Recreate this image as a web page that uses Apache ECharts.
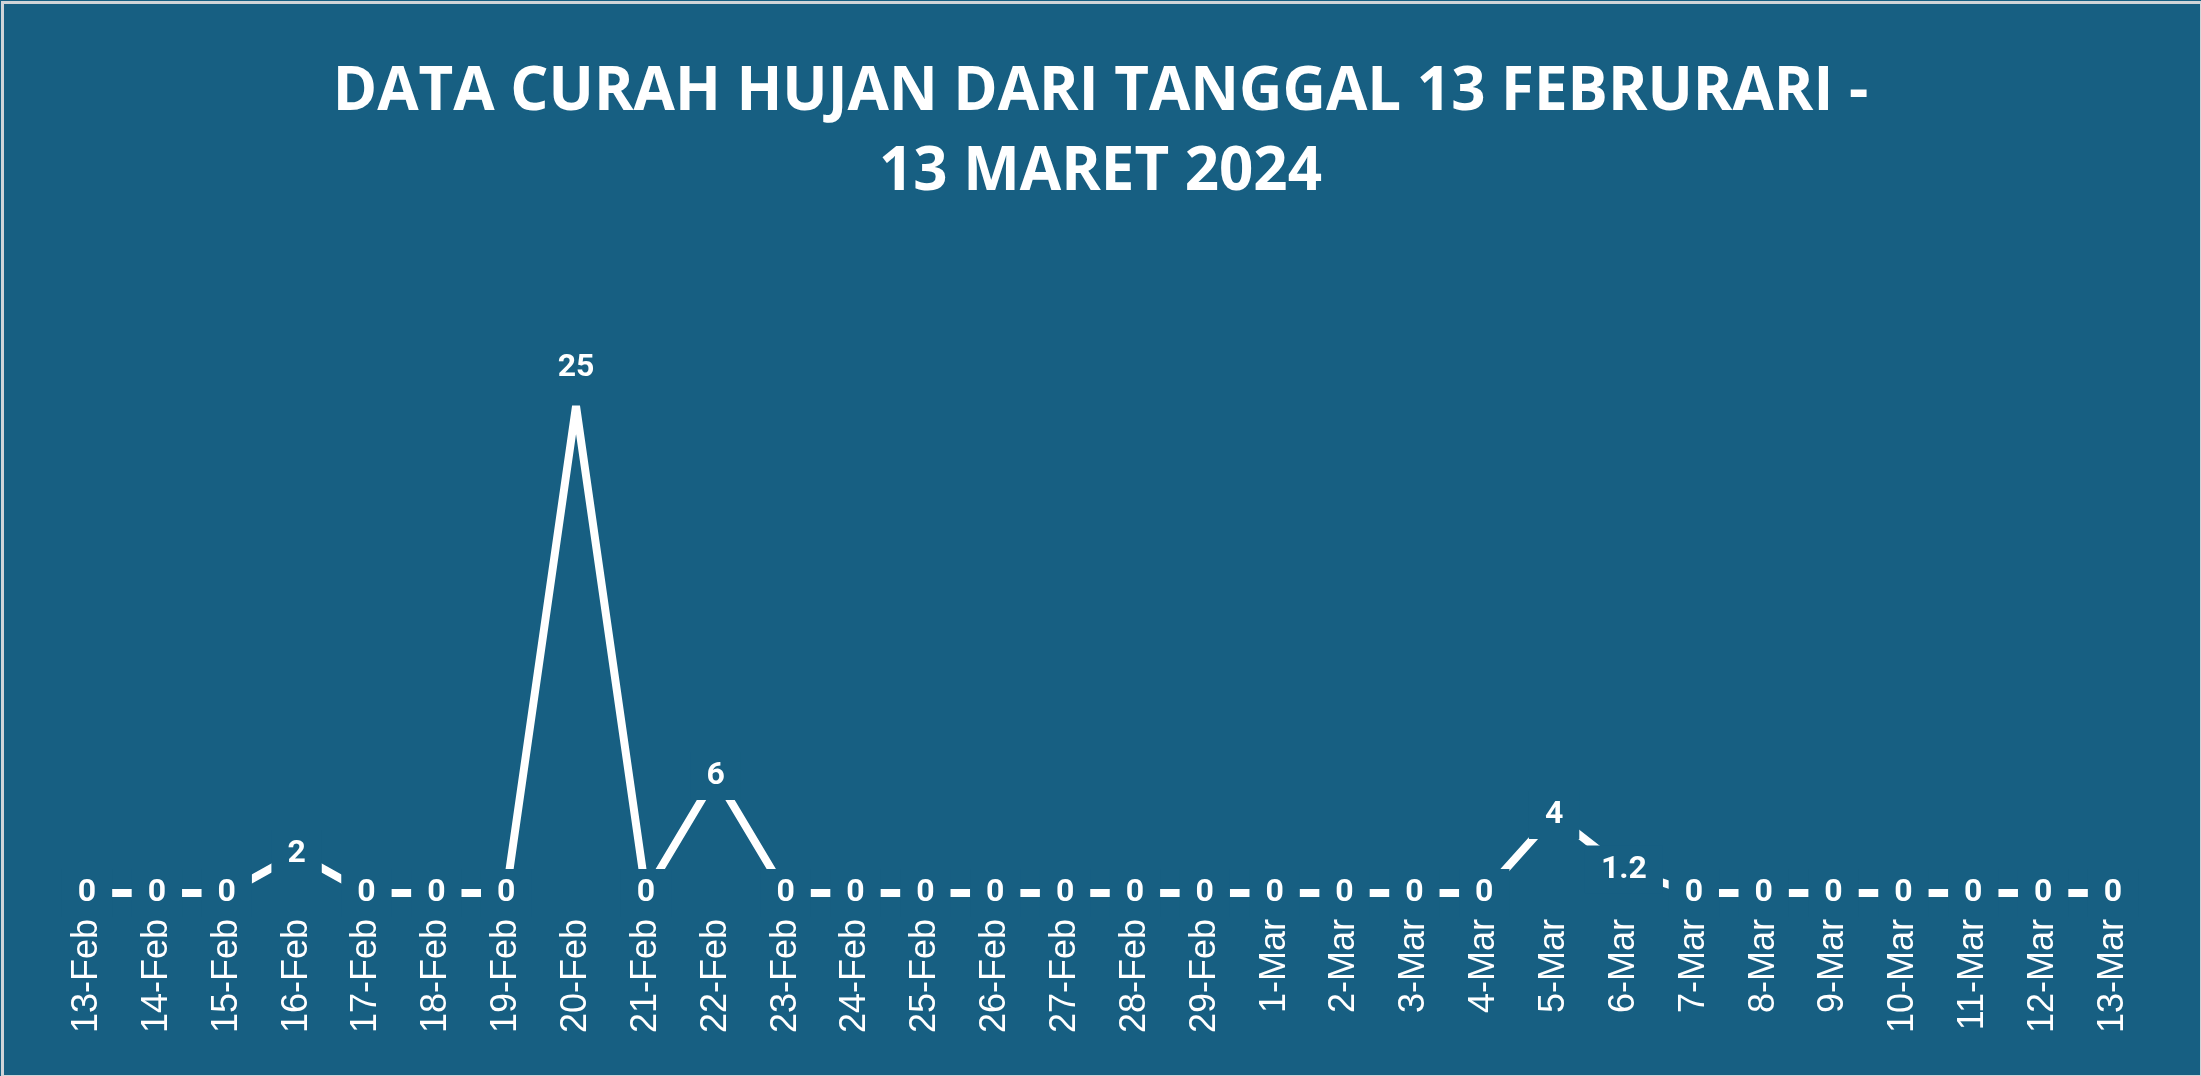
<!DOCTYPE html>
<html><head><meta charset="utf-8">
<script src="https://cdn.jsdelivr.net/npm/echarts@6/dist/echarts.min.js"></script>
<style>html,body{margin:0;padding:0;background:#fff}#c{width:2201px;height:1076px}</style>
</head><body><div id="c"></div>
<script>
var dates = ['13-Feb','14-Feb','15-Feb','16-Feb','17-Feb','18-Feb','19-Feb','20-Feb','21-Feb','22-Feb','23-Feb','24-Feb','25-Feb','26-Feb','27-Feb','28-Feb','29-Feb','1-Mar','2-Mar','3-Mar','4-Mar','5-Mar','6-Mar','7-Mar','8-Mar','9-Mar','10-Mar','11-Mar','12-Mar','13-Mar'];
var rainfall = [0,0,0,2,0,0,0,25,0,6,0,0,0,0,0,0,0,0,0,0,0,4,1.2,0,0,0,0,0,0,0];
var bg = '#175F82';

var chart = echarts.init(document.getElementById('c'));
var data = rainfall.map(function (v) {
    var d = { value: v };
    if (v === 25) {
        d.label = { position: 'top', distance: 14, backgroundColor: 'transparent' };
    }
    return d;
});
chart.setOption({
    backgroundColor: bg,
    graphic: [{
        type: 'rect', left: 0, top: 0,
        shape: { width: 2199, height: 1074 },
        style: { fill: 'none', stroke: '#d0d4d8', lineWidth: 3 }
    }],
    title: {
        text: 'DATA CURAH HUJAN DARI TANGGAL 13 FEBRURARI -\n13 MARET 2024',
        left: 'center',
        top: 48,
        textStyle: {
            color: '#fff', fontSize: 60, fontWeight: 'bold', lineHeight: 80,
            fontFamily: 'Open Sans'
        }
    },
    grid: { left: 87, right: 88, top: 406, bottom: 183 },
    xAxis: {
        type: 'category',
        data: dates,
        boundaryGap: false,
        axisLine: { show: false },
        axisTick: { show: false },
        axisLabel: {
            rotate: 90, color: '#fff', fontSize: 36, margin: 26,
            fontFamily: 'Liberation Sans', interval: 0
        }
    },
    yAxis: {
        type: 'value', min: 0, max: 25, show: false,
        splitLine: { show: false }
    },
    series: [{
        type: 'line',
        data: data,
        symbol: 'circle',
        symbolSize: 1,
        showAllSymbol: true,
        itemStyle: { color: 'transparent' },
        lineStyle: { color: '#fff', width: 8 },
        label: {
            show: true,
            position: 'inside',
            color: '#fff',
            fontSize: 32,
            fontWeight: 'bold',
            fontFamily: 'Roboto',
            backgroundColor: bg,
            padding: [8, 16, 8, 16]
        }
    }]
});
</script></body></html>
